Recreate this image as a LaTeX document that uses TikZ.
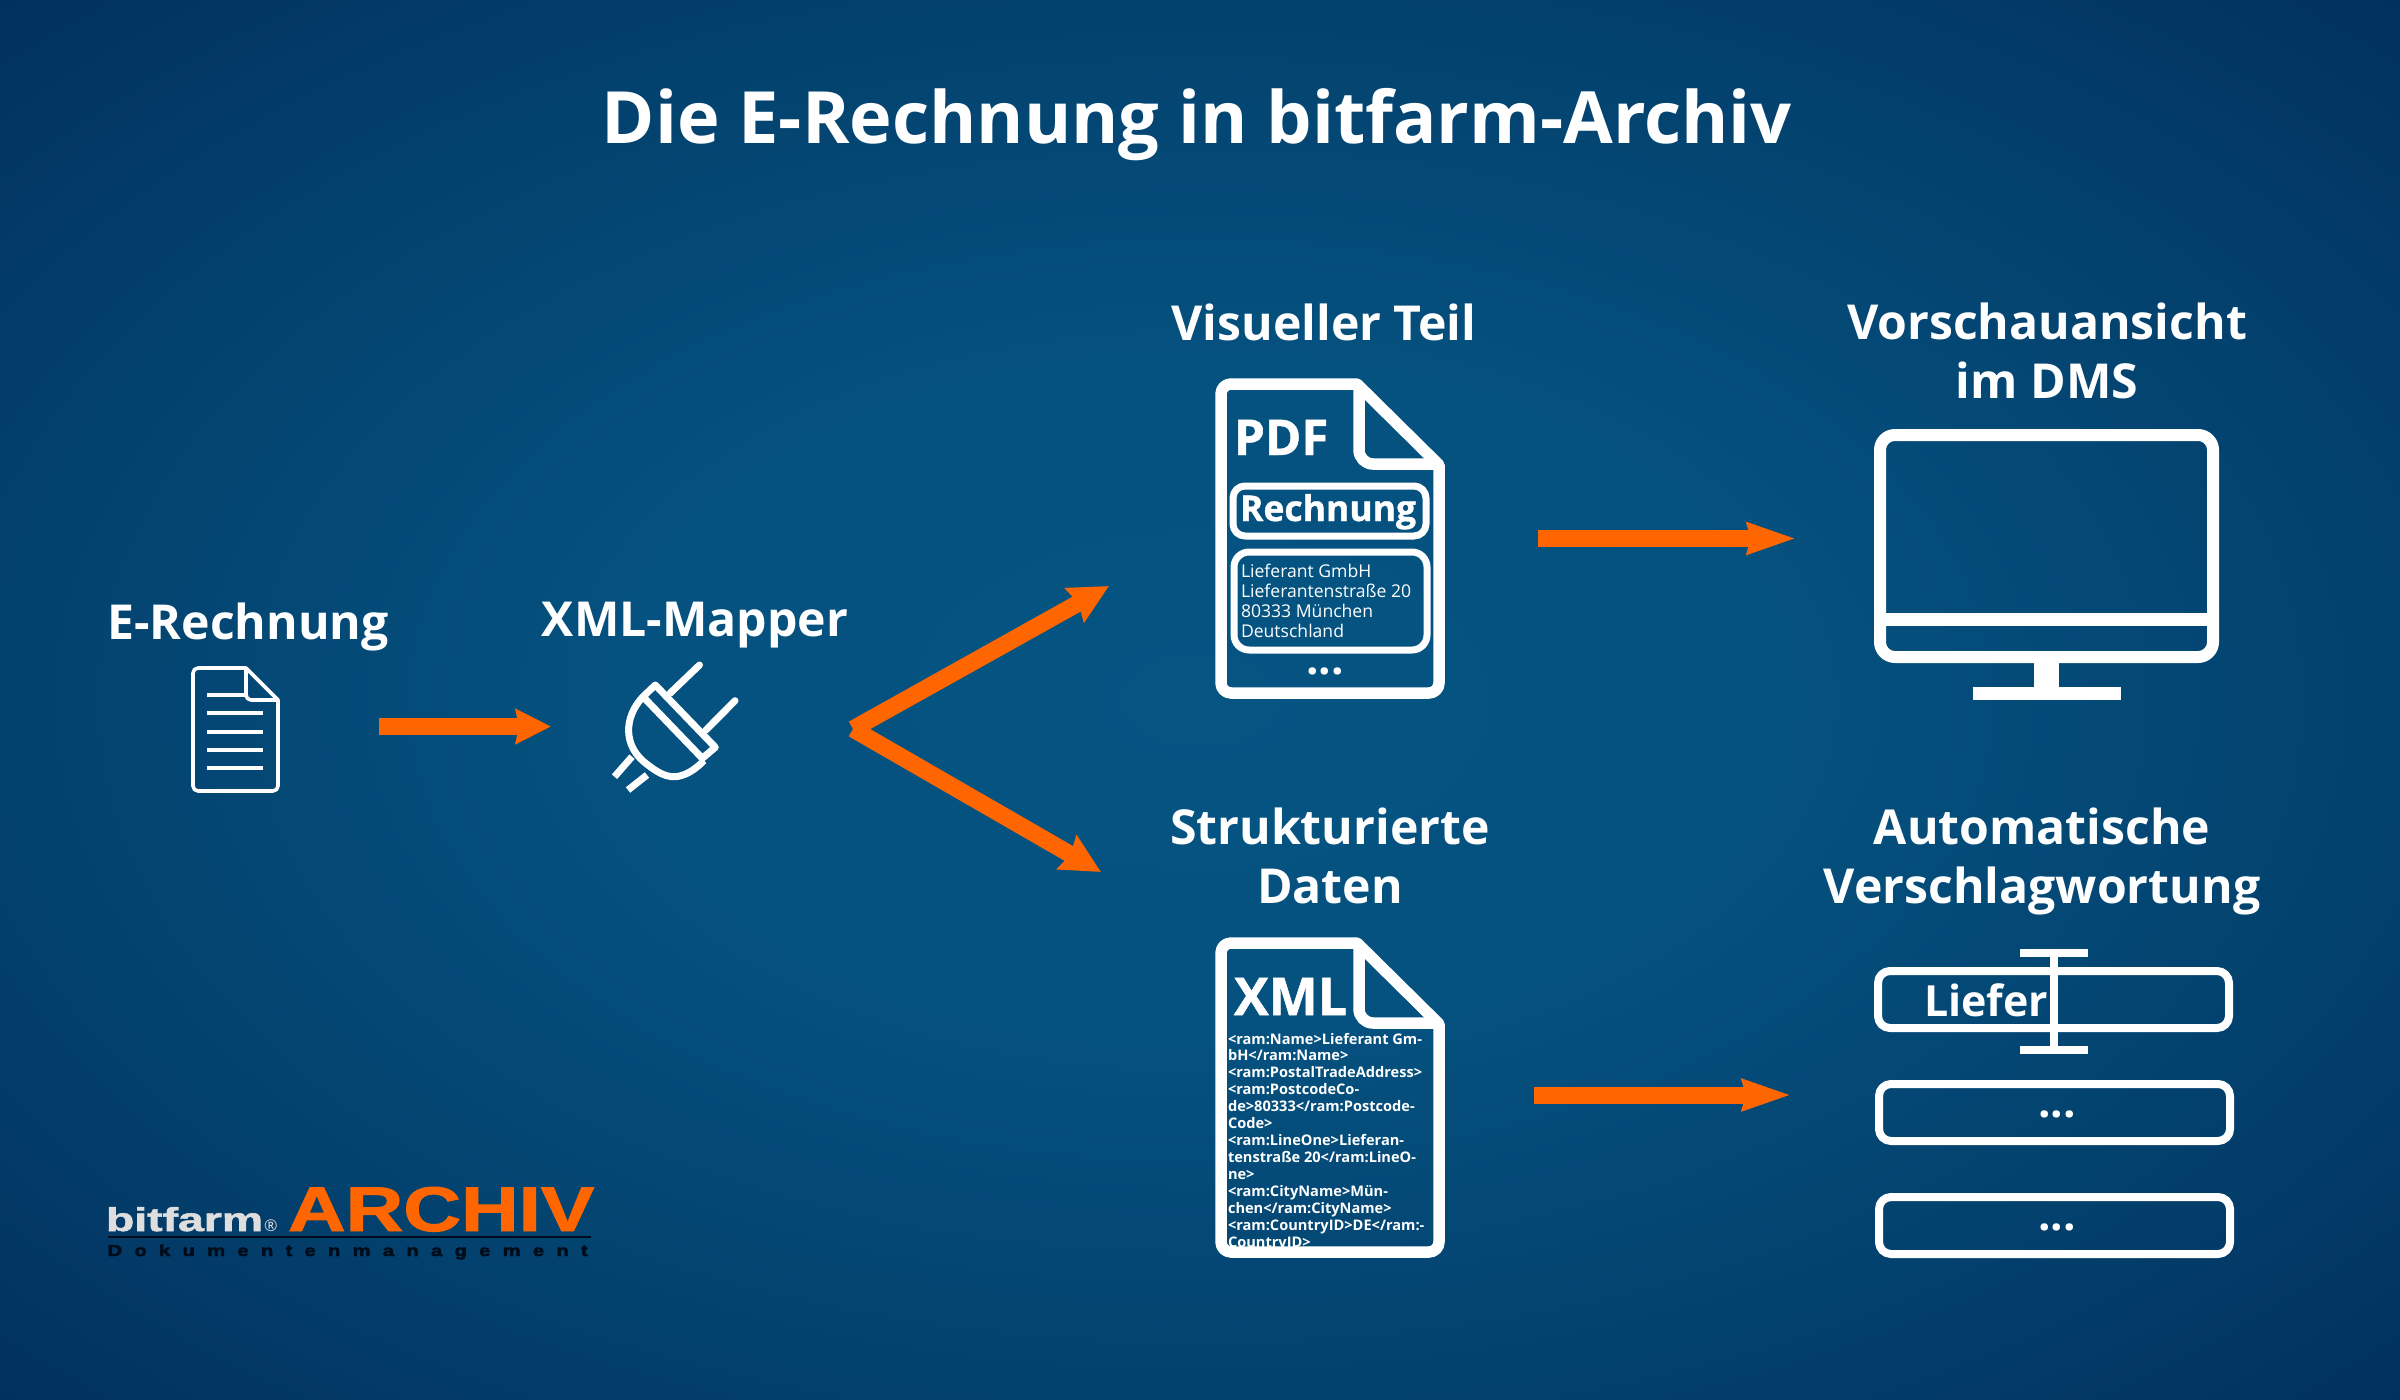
\documentclass[tikz,border=0pt]{standalone}
\usepackage{fontspec}
\usepackage{tikz}
\usetikzlibrary{arrows.meta,positioning}
\setmainfont{Open Sans}
\newfontfamily\heavyfont[UprightFont=* Bold,FakeBold=1]{Open Sans}
\newfontfamily\logofont[UprightFont=* Bold,FakeBold=1.5]{Liberation Sans}
\newfontfamily\logospaced[UprightFont=* Bold,LetterSpace=60,FakeBold=2.5]{Liberation Sans}
\def\px{0.01cm}
\definecolor{flowcol}{HTML}{FF6600}
\definecolor{logogray}{HTML}{DEDEDE}
\definecolor{logodark}{HTML}{000C1A}
\pgfdeclareradialshading{bgglow}{\pgfpoint{0bp}{0bp}}{rgb(0bp)=(0.020,0.329,0.510);rgb(12bp)=(0.020,0.318,0.498);rgb(25bp)=(0.012,0.255,0.431);rgb(36bp)=(0.008,0.188,0.365);rgb(100bp)=(0.008,0.188,0.365)}
\tikzset{
        plaintext/.style={inner sep=0pt,outer sep=0pt,text=white},
        headtext/.style={plaintext,anchor=base,align=center,font=\fontsize{13.7}{16.5}\selectfont\bfseries},
        icon/.style={inner sep=0pt,outer sep=0pt,draw=none},
        whiteline/.style={draw=white,line join=round},
        tipshort/.tip={Stealth[length=35*\px,width=34*\px,inset=3*\px,fill=flowcol]},
        tiplong/.tip={Stealth[length=48*\px,width=30*\px,inset=3*\px,fill=flowcol]},
        tipwide/.tip={Stealth[length=39*\px,width=38*\px,inset=4*\px,fill=flowcol]},
        flow/.style={draw=flowcol,line width=17*\px},
        fieldbox/.style={whiteline,line width=8*\px,rounded corners=12*\px},
        dotstext/.style={plaintext,font=\fontsize{12.5}{14}\selectfont\bfseries},
        bigdoc/.pic={
                \draw[whiteline,line width=11.5*\px,rounded corners=10*\px] (60,0) -- (0,0) -- (0,309) -- (218,309) -- (218,200) [sharp corners] -- (218,81) -- (136,0) -- (60,0);
                \draw[whiteline,line width=11.5*\px,rounded corners=14*\px] (138,0) -- (138,80) -- (218,80);
        }
}

\begin{document}
\begin{tikzpicture}[x=\px,y=-\px]
        \useasboundingbox (0,0) rectangle (2400,1400);
        \shade[shading=bgglow] (0,0) rectangle (2400,1400);

        \node[plaintext,anchor=base,font=\fontsize{20.5}{24}\selectfont\bfseries] (title) at (1197,144) {Die E-Rechnung in bitfarm-Archiv};

        \node[headtext] (erechtitle) at (248,639) {E-Rechnung};
        \node[headtext] (mappertitle) at (695,636) {XML-Mapper};
        \node[headtext] (pdftitle) at (1324,340) {Visueller Teil};
        \node[headtext] (xmltitle) at (1330,903) {Strukturierte\\Daten};
        \node[headtext] (monitortitle) at (2047,398) {Vorschauansicht\\im DMS};
        \node[headtext] (fieldstitle) at (2042,903) {Automatische\\Verschlagwortung};

        \node[icon,minimum width=89*\px,minimum height=127*\px] (erech) at (235.5,726.5) {};
        \node[icon,minimum width=121*\px,minimum height=127*\px] (mapper) at (674.5,726.5) {};
        \node[icon,minimum width=230*\px,minimum height=321*\px] (pdfdoc) at (1330,538.5) {};
        \node[icon,minimum width=230*\px,minimum height=321*\px] (xmldoc) at (1330,1095) {};
        \node[icon,minimum width=345*\px,minimum height=271*\px] (monitor) at (2046.5,538.5) {};
        \node[icon,minimum width=359*\px,minimum height=291*\px] (fields) at (2053.5,1095) {};
        \coordinate (fork) at (853,729);
        \coordinate (forkup) at (1109,586);
        \coordinate (forkdown) at (1101,872);

        % small document
        \draw[whiteline,line width=3.6*\px,rounded corners=5*\px] (220,668) -- (193,668) -- (193,791) -- (278,791) -- (278,760) [sharp corners] -- (278,700) -- (246,668) -- (220,668);
        \draw[whiteline,line width=3.6*\px,rounded corners=5*\px] (246,668) -- (246,700) -- (278,700);
        \fill[white] (207,692.6) rectangle (246,697.4);
        \foreach \ypos in {713,732,750,768}
                \fill[white] (207,\ypos-2.4) rectangle (263,\ypos+2.4);

        % plug
        \draw[whiteline,line width=7*\px,line cap=round] (670,693.3) -- (699.5,665);
        \draw[whiteline,line width=7*\px,line cap=round] (706,730) -- (735,700.7);
        \draw[whiteline,line width=7*\px] (632,756.7) -- (614.5,776.7);
        \draw[whiteline,line width=7*\px] (647,775) -- (628,790);
        \draw[whiteline,line width=7*\px] (643,696.7) -- (655.3,685) -- (715.3,747.3) -- (702.3,758.3) -- cycle;
        \draw[whiteline,line width=7*\px] (643,696.7) .. controls (624,716.7) and (622,746.7) .. (648,765) .. controls (657,772) and (665,776.7) .. (674,776.7) .. controls (684,776.7) and (695,770) .. (704,760.5);

        % pdf document
        \pic (pdfshape) at (1221,384) {bigdoc};
        \node[plaintext,anchor=base west,font=\heavyfont\fontsize{14}{16}\selectfont] (pdfword) at (1234,455) {PDF};
        \draw[fieldbox,line width=7*\px] (1233,486) rectangle (1426,536);
        \node[plaintext,anchor=base west,font=\heavyfont\fontsize{10.1}{11}\selectfont] (pdfname) at (1240,521) {Rechnung};
        \draw[fieldbox,line width=7*\px,rounded corners=15*\px] (1234,552) rectangle (1427,650);
        \node[plaintext,anchor=base west,align=left,font=\fontsize{5}{5.69}\selectfont] (address) at (1241,637.5) {Lieferant GmbH\\Lieferantenstraße 20\\80333 München\\Deutschland};
        \node[dotstext,anchor=base] (pdfdots) at (1325,674) {...};

        % xml document
        \pic (xmlshape) at (1221,943) {bigdoc};
        \node[plaintext,anchor=base west,font=\heavyfont\fontsize{14.8}{16}\selectfont] (xmlword) at (1234,1015) {XML};
        \node[plaintext,anchor=base west,align=left,font=\fontsize{4.15}{4.81}\selectfont\bfseries] (xmlcode) at (1228,1247) {<ram:Name>Lieferant Gm-\\bH</ram:Name>\\<ram:PostalTradeAddress>\\<ram:PostcodeCo-\\de>80333</ram:Postcode-\\Code>\\<ram:LineOne>Lieferan-\\tenstraße 20</ram:LineO-\\ne>\\<ram:CityName>Mün-\\chen</ram:CityName>\\<ram:CountryID>DE</ram:-\\CountryID>};

        % monitor
        \draw[whiteline,line width=12*\px,rounded corners=15*\px] (1880,435) rectangle (2213,657);
        \fill[white] (1880,613) rectangle (2213,626);
        \fill[white] (2034,657) rectangle (2059,690);
        \fill[white] (1973,687) rectangle (2121,700);

        % input fields
        \draw[fieldbox] (1878,971) rectangle (2229,1028);
        \draw[fieldbox] (1879,1084) rectangle (2230,1141);
        \draw[fieldbox] (1879,1197) rectangle (2230,1254);
        \node[plaintext,anchor=base west,font=\fontsize{12.2}{14}\selectfont\bfseries] (fieldword) at (1924,1016) {Liefer};
        \fill[white] (2050,949) rectangle (2058,1054);
        \fill[white] (2020,949) rectangle (2088,957);
        \fill[white] (2020,1046) rectangle (2088,1054);
        \node[dotstext,anchor=base] (dotstwo) at (2057,1117) {...};
        \node[dotstext,anchor=base] (dotsthree) at (2057,1230) {...};

        % logo
        \node[plaintext,anchor=base west,text=logogray,font=\logofont] (logoname) at (106,1231) {\resizebox{1.57cm}{0.24cm}{bitfarm}};
        \node[plaintext,anchor=base west,text=logogray,font=\fontsize{4.6}{5}\selectfont] (logoreg) at (264,1231) {®};
        \node[plaintext,anchor=base west,text=flowcol,font=\logofont] (logomark) at (288,1231) {\resizebox{3.06cm}{0.44cm}{ARCHIV}};
        \draw[draw=logodark,line width=1.7*\px] (107.5,1237) -- (591,1237);
        \node[plaintext,anchor=base west,text=logodark,font=\logospaced] (logosub) at (107.5,1256) {\resizebox{4.8cm}{0.115cm}{Dokumentenmanagement}};

        \draw[flow,-tipshort,shorten <=99*\px,shorten >=63*\px] (erech) -- (mapper);
        \draw[flow,-tiplong,shorten <=93*\px,shorten >=78*\px] (pdfdoc) -- (monitor);
        \draw[flow,-tiplong,shorten <=89*\px,shorten >=83*\px] (xmldoc) -- (fields);
        \draw[flow,-tipwide] (fork) -- (forkup);
        \draw[flow,-tipwide] (fork) -- (forkdown);
\end{tikzpicture}
\end{document}
